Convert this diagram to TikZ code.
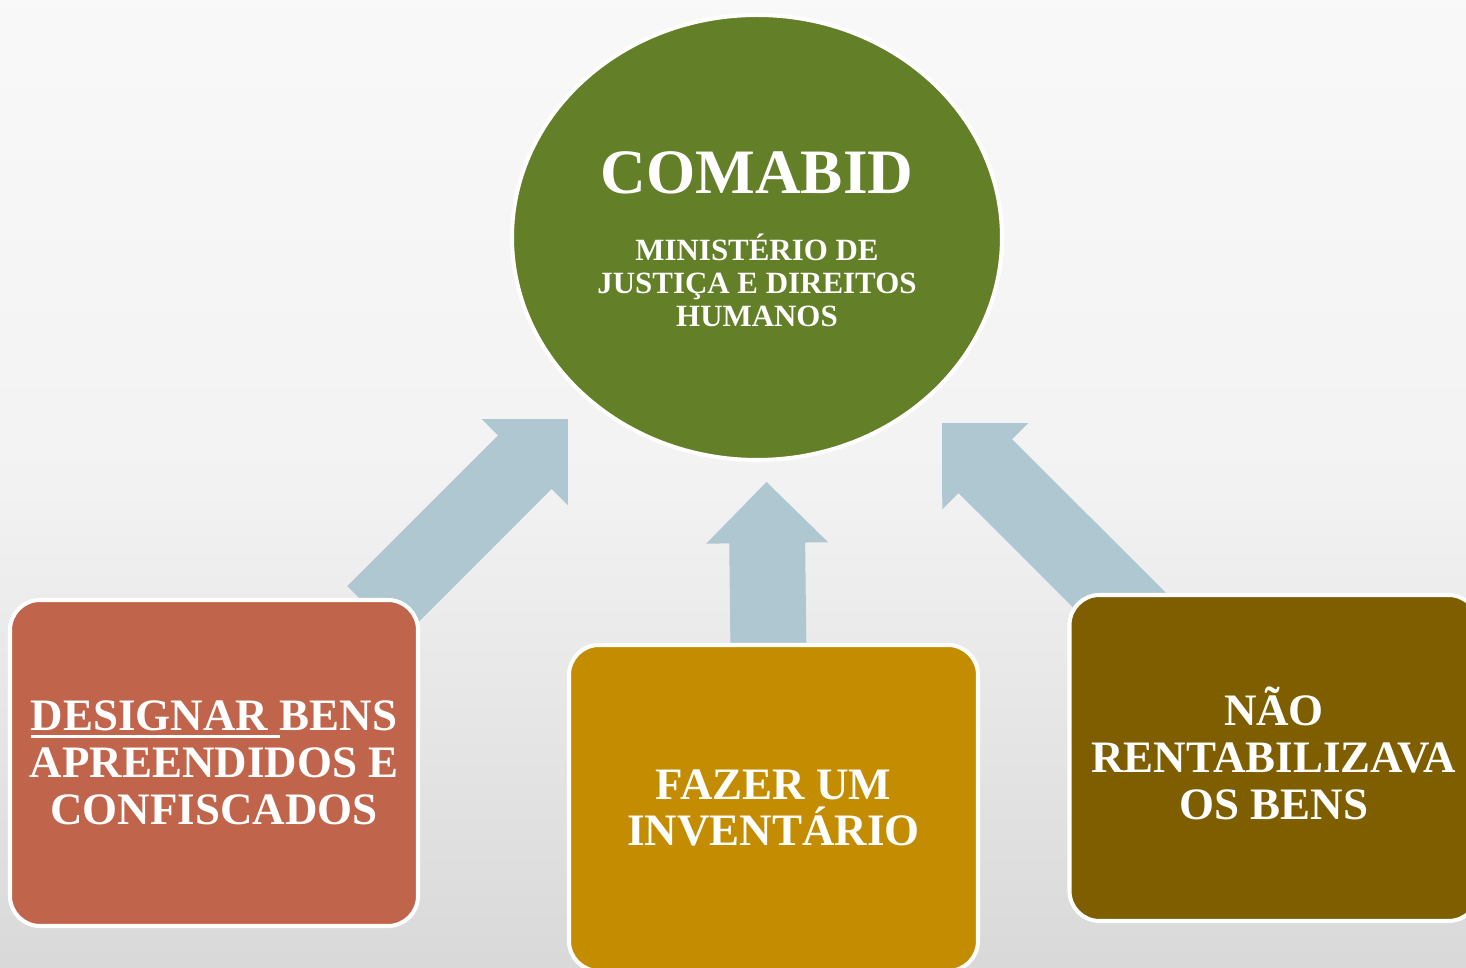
\documentclass[tikz,border=0pt]{standalone}
\usepackage{fontspec}
\setmainfont{Liberation Serif}
\usetikzlibrary{calc,positioning,shapes.geometric}
\definecolor{comgreen}{RGB}{99,127,39}
\definecolor{terra}{RGB}{192,101,75}
\definecolor{ochre}{RGB}{196,140,0}
\definecolor{umber}{RGB}{127,94,0}
\definecolor{flowblue}{RGB}{175,199,209}
\pgfdeclarelayer{back}
\pgfdeclarelayer{flow}
\pgfsetlayers{back,flow,main}
\tikzset{
  taskbox/.style={rectangle, rounded corners=0.3cm, draw=white, line width=1.15pt,
                  minimum width=4.08cm, minimum height=3.26cm, align=center,
                  text=white, font=\fontsize{12.8}{13.3}\selectfont\bfseries},
}
% thicker underline
\newcommand{\thickul}[1]{\setbox0\hbox{#1}\rlap{\rule[-2.1pt]{\wd0}{0.85pt}}\box0}
% block arrow from #1 to #2
\newcommand{\flowarrow}[2]{%
  \path let \p1=($(#2)-(#1)$), \n1={atan2(\y1,\x1)}, \n2={veclen(\x1,\y1)} in
    \pgfextra{\xdef\arrang{\n1}\xdef\arrlen{\n2}};
  \fill[flowblue, shift={(#1)}, rotate=\arrang]
    (0pt,-10.8pt) -- (\arrlen-17.35pt,-10.8pt) -- (\arrlen-17.35pt,-17.35pt)
    -- (\arrlen,0pt) -- (\arrlen-17.35pt,17.35pt) -- (\arrlen-17.35pt,10.8pt)
    -- (0pt,10.8pt) -- cycle;}

\begin{document}
\begin{tikzpicture}
    \useasboundingbox (0,0) rectangle (14.66,9.68);
    \clip (0,0) rectangle (14.66,9.68);
    \begin{pgfonlayer}{back}
        \shade[top color=gray!5, bottom color=gray!30, middle color=gray!10] (0,0) rectangle (14.66,9.68);
    \end{pgfonlayer}

    % centre
    \node[ellipse, fill=comgreen, draw=white, line width=1.15pt, minimum width=4.90cm,
          minimum height=4.45cm, inner sep=0pt] (comabid) at (7.57,7.305) {};
    \node[text=white, font=\fontsize{18}{18}\selectfont\bfseries] (title) at ($(comabid.center)+(0,0.645)$) {COMABID};
    \node[text=white, align=center, font=\fontsize{8.8}{9.3}\selectfont\bfseries] (ministerio)
          at ($(comabid.center)+(0,-0.43)$) {MINISTÉRIO DE\\JUSTIÇA E DIREITOS\\HUMANOS};

    % tasks
    \node[taskbox, fill=terra] (designar) at (2.14,2.05) {\thickul{DESIGNAR\ }BENS\\APREENDIDOS E\\CONFISCADOS};
    \node[taskbox, fill=ochre, minimum width=4.09cm] (inventario) at (7.735,1.60) {FAZER UM\\INVENTÁRIO};
    \node[taskbox, fill=umber, minimum width=4.09cm, text depth=0.1cm] (rentabilizar) at (12.74,2.10) {NÃO\\RENTABILIZAVA\\OS BENS};

    \coordinate (tipL) at (5.68,5.49);
    \coordinate (tipM) at (7.665,4.86);
    \coordinate (tipR) at (9.42,5.45);

    \begin{pgfonlayer}{flow}
        \flowarrow{$(designar.north east)+(-0.46,-0.15)$}{tipL}
        \flowarrow{$(inventario.north)+(-0.05,-0.15)$}{tipM}
        \flowarrow{$(rentabilizar.north west)+(0.81,-0.36)$}{tipR}
    \end{pgfonlayer}
\end{tikzpicture}
\end{document}
